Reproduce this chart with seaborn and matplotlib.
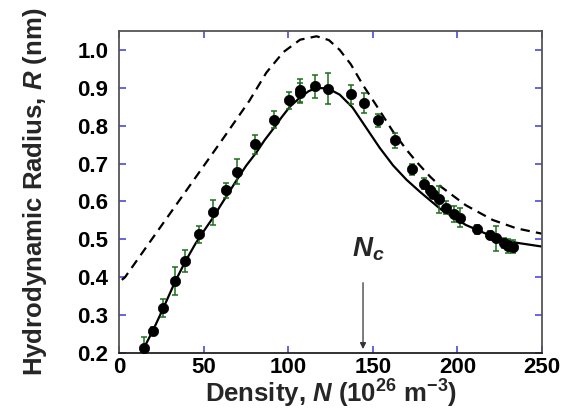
import matplotlib
matplotlib.use("Agg")
import matplotlib.pyplot as plt
import seaborn as sns
import pandas as pd
from matplotlib.ticker import FormatStrFormatter

# ---- data ----
pt_x = [14.8, 20.1, 25.6, 33.1, 38.8, 46.9, 55.6, 63.2, 69.4, 80.4, 91.4, 100.7,
        106.8, 107.2, 115.9, 123.2, 137.3, 144.8, 153.1, 163.4, 173.4, 180.1,
        184.0, 185.8, 189.1, 193.1, 198.0, 201.4, 211.8, 219.1, 223.0, 227.5,
        229.9, 232.9]
pt_y = [0.214, 0.259, 0.319, 0.390, 0.443, 0.513, 0.572, 0.629, 0.678, 0.751,
        0.816, 0.867, 0.893, 0.886, 0.904, 0.897, 0.883, 0.860, 0.814, 0.761,
        0.685, 0.647, 0.630, 0.620, 0.606, 0.583, 0.568, 0.557, 0.526, 0.511,
        0.503, 0.491, 0.483, 0.481]
pt_err = [0.029, 0.010, 0.024, 0.036, 0.028, 0.023, 0.033, 0.021, 0.033, 0.025,
          0.023, 0.022, 0.030, 0.027, 0.031, 0.041, 0.025, 0.026, 0.018, 0.021,
          0.015, 0.015, 0.012, 0.012, 0.036, 0.017, 0.021, 0.025, 0.013, 0.011,
          0.033, 0.013, 0.018, 0.018]

solid_x = [12.8, 20, 26, 33, 39, 45, 50, 55.6, 60, 65, 69.4, 75, 81.2, 86, 92,
           96, 100.9, 106.8, 112, 116.7, 123.5, 130.4, 138, 146, 154, 162, 170,
           178, 190, 205, 221, 235, 250]
solid_y = [0.198, 0.260, 0.318, 0.388, 0.441, 0.488, 0.522, 0.558, 0.590, 0.625,
           0.656, 0.694, 0.730, 0.762, 0.797, 0.822, 0.850, 0.874, 0.891, 0.900,
           0.898, 0.882, 0.848, 0.795, 0.742, 0.695, 0.657, 0.625, 0.580, 0.538,
           0.507, 0.491, 0.481]

dash_x = [1.5, 3.4, 20, 40, 60, 77, 87, 97, 107, 116.7, 124, 130.4, 137, 144.2,
          152, 162, 170, 176, 184, 190, 205, 221, 235, 250]
dash_y = [0.393, 0.400, 0.505, 0.631, 0.757, 0.866, 0.940, 0.994, 1.027, 1.036,
          1.026, 1.000, 0.962, 0.907, 0.854, 0.784, 0.736, 0.704, 0.665, 0.640,
          0.590, 0.551, 0.529, 0.515]

x_ticks = [0, 50, 100, 150, 200, 250]
y_ticks = [0.2, 0.3, 0.4, 0.5, 0.6, 0.7, 0.8, 0.9, 1.0]

nc_x = 144.2
nc_y_top = 0.393
nc_y_tip = 0.203

# ---- style ----
sns.set_theme(style="ticks")
plt.rcParams["font.family"] = ["Liberation Sans", "DejaVu Sans"]
plt.rcParams["font.weight"] = "bold"
plt.rcParams["mathtext.fontset"] = "custom"
plt.rcParams["mathtext.rm"] = "Liberation Sans:bold"
plt.rcParams["mathtext.it"] = "Liberation Sans:italic:bold"
plt.rcParams["mathtext.bf"] = "Liberation Sans:bold"

fig = plt.figure(figsize=(5.74, 4.17), dpi=100)
ax = fig.add_axes([0.2078, 0.1535, 0.7362, 0.7722])

df_solid = pd.DataFrame({"N": solid_x, "R": solid_y})
df_dash = pd.DataFrame({"N": dash_x, "R": dash_y})

sns.lineplot(data=df_dash, x="N", y="R", ax=ax, color="black", lw=1.6,
             linestyle=(0, (4.2, 2.8)), sort=False)
sns.lineplot(data=df_solid, x="N", y="R", ax=ax, color="black", lw=1.6, sort=False)

ax.errorbar(pt_x, pt_y, yerr=pt_err, fmt="none", ecolor="#1b6e1b", elinewidth=1.1,
            capsize=2.2, capthick=1.1, zorder=3)
sns.scatterplot(x=pt_x, y=pt_y, ax=ax, color="black", s=55, edgecolor="black",
                linewidth=0.5, zorder=4)

ax.annotate("", xy=(nc_x, nc_y_tip), xytext=(nc_x, nc_y_top),
            arrowprops=dict(arrowstyle="-|>", color="#333333", lw=0.9,
                            mutation_scale=9))
ax.text(137.7, 0.456, r"$N_c$", fontsize=20, ha="left", va="baseline")

ax.set_xlim(0, 250)
ax.set_ylim(0.2, 1.05)
ax.set_xticks(x_ticks)
ax.set_yticks(y_ticks)
ax.yaxis.set_major_formatter(FormatStrFormatter("%.1f"))
ax.tick_params(direction="in", colors="#4a4ae0", labelcolor="black", length=5,
               width=1.2, top=True, right=True, labelsize=16)
ax.tick_params(axis="x", pad=3)
ax.tick_params(axis="y", pad=8)
for t in ax.get_xticklabels() + ax.get_yticklabels():
    t.set_fontweight("bold")
for s in ax.spines.values():
    s.set_color("#555555")
    s.set_linewidth(1.3)
ax.spines["bottom"].set_color("#222222")

ax.set_xlabel(r"Density, $N$ (10$^{\mathregular{26}}$ m$^{\mathregular{-3}}$)",
              fontsize=18.5, fontweight="bold", labelpad=0)
ax.set_ylabel(r"Hydrodynamic Radius, $R$ (nm)", fontsize=18.5, fontweight="bold",
              labelpad=20)
if ax.get_legend() is not None:
    ax.get_legend().remove()

fig.savefig("out.png", dpi=100)
